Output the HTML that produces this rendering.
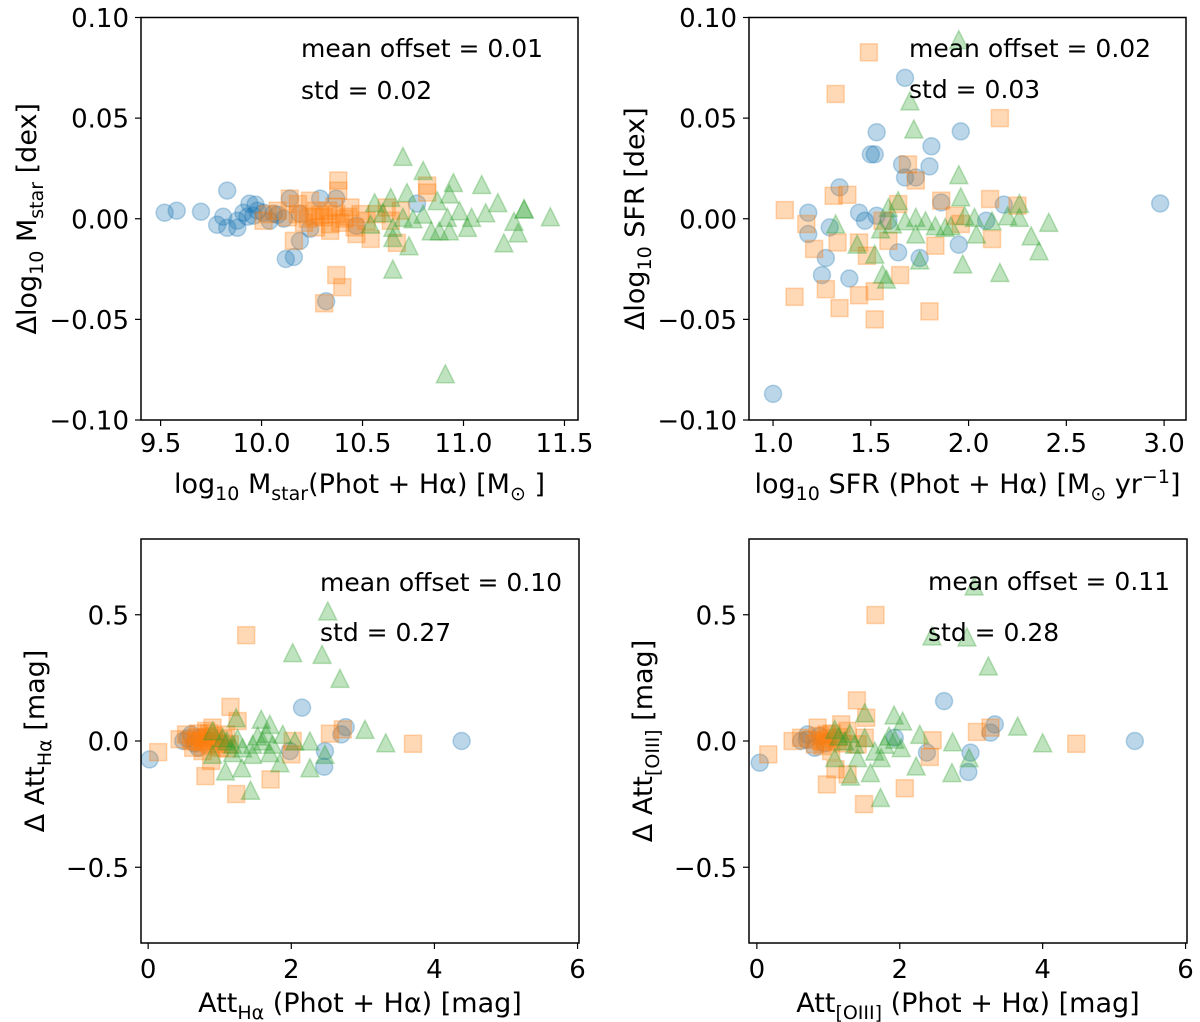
<!DOCTYPE html>
<html><head><meta charset="utf-8">
<style>
html,body{margin:0;padding:0;background:#fff;}
svg{display:block;font-family:"DejaVu Sans","Liberation Sans",sans-serif;}
</style></head>
<body>
<svg id="fig" width="1200" height="1022" viewBox="0 0 1200 1022"></svg>
<script>
// ---------- data ----------
const p1Blue=[[9.52,0.003],[9.58,0.004],[9.70,0.0035],[9.83,0.014],[9.81,0.001],[9.78,-0.003],[9.83,-0.0045],[9.88,-0.0045],[9.88,-0.001],[9.91,0.003],[9.94,0.0075],[9.97,0.007],[9.96,0.0015],[10.01,0.003],[10.06,0.0025],[10.11,0],[10.14,0.01],[10.19,-0.011],[10.12,-0.02],[10.16,-0.019],[10.32,-0.041],[10.29,0.01],[10.37,0.01],[10.24,-0.005],[10.77,0.0075],[10.47,-0.0035],[10.04,-0.001],[10.19,0.0025],[9.93,0.001],[9.98,0.004],[10.08,0.002]];
const p1Orange=[[10.38,0.019],[10.38,0.014],[10.82,0.0165],[10.82,0.013],[10.37,-0.028],[10.40,-0.034],[10.31,-0.042],[10.16,-0.011],[10.54,-0.01],[10.67,-0.012],[10.14,0.01],[10.03,0.0023],[10.08,0.004],[10.13,0.0007],[10.18,0.0023],[10.23,0],[10.27,0.004],[10.31,0.0007],[10.34,-0.0027],[10.37,0.0023],[10.41,0],[10.44,0.0056],[10.46,-0.0043],[10.49,0.0023],[10.52,-0.001],[10.57,0.0023],[10.62,0.0056],[10.64,-0.001],[10.69,0.004],[10.27,-0.0043],[10.34,-0.006],[10.18,0.0073],[10.24,0.009],[10.47,-0.0076],[10.01,-0.001],[10.29,0.002],[10.33,0.004],[10.39,-0.002],[10.43,0.001],[10.36,0.006],[10.21,-0.002],[10.26,0.001]];
const p1Green=[[10.70,0.031],[10.80,0.024],[10.95,0.018],[11.09,0.017],[11.17,0.008],[11.43,0.001],[11.30,0.005],[11.25,-0.0013],[11.27,-0.007],[11.20,-0.012],[10.65,-0.025],[10.91,-0.077],[10.73,-0.0134],[10.93,0.0123],[10.56,0.008],[10.64,0.0106],[10.72,0.013],[10.54,-0.0027],[10.60,0.003],[10.65,-0.0043],[10.70,0.0007],[10.75,0],[10.80,0.0023],[10.84,-0.006],[10.87,0.009],[10.88,-0.006],[10.92,0.0007],[10.93,-0.006],[10.98,0.004],[11.02,-0.0043],[11.04,0.0007],[11.11,0.003],[11.30,0.0048],[10.65,-0.0093]];

const p2Blue=[[1.00,-0.087],[2.98,0.0076],[1.675,0.07],[1.53,0.043],[1.50,0.032],[1.52,0.032],[1.81,0.036],[1.96,0.0434],[1.80,0.026],[1.66,0.027],[1.675,0.0205],[1.73,0.0205],[1.34,0.0156],[1.18,0.003],[1.18,-0.0076],[1.27,-0.0195],[1.25,-0.028],[1.39,-0.0297],[1.44,0.003],[1.47,-0.001],[1.53,0.0015],[1.64,-0.0167],[1.75,-0.0195],[1.95,-0.0129],[2.18,0.007],[2.09,-0.001],[1.86,0.0081],[1.29,-0.0043],[1.59,-0.001]];
const p2Orange=[[1.49,0.0827],[1.32,0.062],[2.16,0.05],[1.06,0.0043],[1.11,-0.0388],[1.34,-0.0444],[1.52,-0.050],[1.80,-0.046],[1.27,-0.035],[1.44,-0.038],[1.52,-0.036],[1.65,-0.028],[1.21,-0.015],[2.11,0.0098],[2.25,0.0065],[2.12,-0.0101],[1.86,0.009],[1.69,0.027],[1.73,0.019],[1.31,0.0114],[1.38,0.0119],[1.17,-0.0026],[1.33,-0.0118],[1.44,-0.0118],[1.48,-0.0184],[1.56,-0.001],[1.59,-0.011],[1.83,-0.0134],[1.96,-0.0026],[1.93,0.0015],[1.64,0.0073]];
const p2Green=[[1.95,0.089],[1.70,0.0586],[1.72,0.0446],[1.95,0.0219],[1.96,0.0109],[2.26,0.0076],[2.26,0.0007],[2.41,-0.0018],[2.32,-0.0085],[2.36,-0.0159],[2.16,-0.0267],[1.97,-0.0225],[1.75,-0.0205],[1.56,-0.0275],[1.58,-0.030],[1.52,-0.0176],[1.43,-0.0126],[1.32,-0.0026],[1.55,-0.0051],[1.61,-0.0026],[1.73,0.0007],[1.78,-0.001],[1.83,-0.0035],[1.88,-0.0043],[1.91,-0.0035],[1.98,0.0015],[2.03,0.0007],[2.04,-0.0076],[2.12,-0.001],[2.20,0.0015],[1.64,0.009],[1.73,-0.0076],[1.59,0.0056],[1.675,-0.001]];

const p3Blue=[[0.02,-0.073],[4.38,0],[2.15,0.132],[2.76,0.055],[2.70,0.026],[2.47,-0.04],[2.46,-0.102],[1.98,-0.04],[0.60,0.026],[0.49,0],[0.72,0.013],[0.70,-0.027],[0.55,0.01],[0.65,-0.01]];
const p3Orange=[[1.37,0.419],[1.15,0.135],[1.25,0.079],[3.70,-0.011],[2.54,0.029],[2.72,0.046],[2.02,0],[2.0,-0.053],[1.71,-0.152],[1.23,-0.21],[0.80,-0.139],[0.88,-0.079],[0.14,-0.044],[0.44,0.007],[0.53,0.026],[0.67,0],[0.81,0.04],[0.95,0],[1.09,0.026],[0.76,-0.04],[1.0,-0.027],[0.63,-0.027],[0.90,0.053],[1.14,-0.013],[0.75,0.01],[0.85,-0.01],[0.7,0.03],[1.05,0.01],[0.78,0.0],[0.82,0.015],[0.88,-0.02],[0.72,-0.005],[0.92,0.02],[0.98,-0.01],[0.6,0.0],[0.68,0.015],[1.1,-0.03],[0.85,0.03]];
const p3Green=[[2.51,0.515],[2.02,0.35],[2.43,0.343],[2.68,0.248],[3.03,0.046],[3.32,-0.007],[2.26,0],[2.47,-0.053],[2.26,-0.106],[1.84,-0.086],[1.43,-0.195],[1.31,-0.106],[1.08,-0.119],[1.23,0.092],[1.58,0.086],[1.70,0.066],[1.88,0.026],[2.05,0],[0.90,0.04],[1.04,0.013],[1.18,-0.013],[1.32,-0.027],[1.46,-0.013],[1.60,0],[1.74,-0.013],[0.90,-0.053],[1.18,-0.046],[1.46,-0.053],[1.70,-0.046],[1.1,0.0],[1.25,0.01],[1.53,0.02],[1.65,0.03]];

const p4Blue=[[0.04,-0.086],[5.29,0],[2.62,0.158],[3.33,0.066],[3.27,0.033],[2.99,-0.046],[2.96,-0.123],[2.38,-0.046],[0.71,0.026],[0.62,0],[0.88,0.02],[0.81,-0.027],[1.93,0.013],[0.7,0.005],[0.95,-0.01]];
const p4Orange=[[1.66,0.499],[1.40,0.161],[1.53,0.092],[4.47,-0.011],[3.08,0.036],[3.27,0.053],[2.46,0.003],[2.42,-0.063],[2.07,-0.187],[1.50,-0.25],[0.98,-0.172],[1.10,-0.112],[0.16,-0.053],[0.50,0],[1.27,-0.132],[0.62,0.013],[0.81,-0.013],[0.98,0.026],[1.13,0],[1.27,0.04],[1.41,-0.013],[1.04,-0.04],[0.85,0.053],[1.18,0.066],[1.51,0.013],[0.9,0.0],[1.0,0.01],[0.92,-0.02],[1.05,0.03],[0.88,0.02],[1.2,-0.01],[0.95,-0.005],[1.15,0.015],[0.75,0.005]];
const p4Green=[[3.04,0.614],[2.45,0.416],[2.94,0.412],[3.24,0.297],[3.65,0.059],[4.0,-0.007],[2.74,-0.003],[2.97,-0.066],[2.73,-0.125],[2.23,-0.099],[1.73,-0.224],[1.59,-0.125],[1.31,-0.139],[1.51,0.112],[1.92,0.103],[2.04,0.079],[2.28,0.026],[1.09,0.046],[1.23,0],[1.37,-0.013],[1.51,0.013],[1.65,-0.04],[1.79,-0.013],[1.93,0.007],[2.02,-0.026],[1.09,-0.066],[1.41,-0.066],[1.74,-0.066],[1.15,0.02],[1.3,0.03],[1.85,0.02]];

const xTicks1=[9.5,10.0,10.5,11.0,11.5];
const xTickLabels1=["9.5","10.0","10.5","11.0","11.5"];
const xTicks2=[1.0,1.5,2.0,2.5,3.0];
const xTickLabels2=["1.0","1.5","2.0","2.5","3.0"];
const xTicks34=[0,2,4,6];
const xTickLabels34=["0","2","4","6"];
const yTicksTop=[0.10,0.05,0.00,-0.05,-0.10];
const yTickLabelsTop=["0.10","0.05","0.00","\u22120.05","\u22120.10"];
const yTicksBot=[0.5,0.0,-0.5];
const yTickLabelsBot=["0.5","0.0","\u22120.5"];
const annotations=[["mean offset = 0.01","std = 0.02"],["mean offset = 0.02","std = 0.03"],["mean offset = 0.10","std = 0.27"],["mean offset = 0.11","std = 0.28"]];

// ---------- drawing ----------
const NS="http://www.w3.org/2000/svg";
const svg=document.getElementById('fig');
function mk(tag,attrs,parent){const e=document.createElementNS(NS,tag);for(const k in attrs)e.setAttribute(k,attrs[k]);(parent||svg).appendChild(e);return e;}

const SUB=19;
const panels=[
 {name:'mass',L:141,R:578,T:17.5,B:420,x0:9.403,x1:11.567,y0:-0.1,y1:0.1,blue:p1Blue,orange:p1Orange,green:p1Green,xt:xTicks1,xl:xTickLabels1,yt:yTicksTop,yl:yTickLabelsTop,ann:annotations[0],ax:301,ay:[57,99],tOff:32,lOff:73,
  xlabel:`log<tspan font-size="${SUB}" dy="7">10</tspan><tspan dy="-7"> M</tspan><tspan font-size="${SUB}" dy="7">star</tspan><tspan dy="-7">(Phot + H\u03b1) [M</tspan><tspan font-size="${SUB}" dy="7">\u2299</tspan><tspan dy="-7"> ]</tspan>`,
  ylabel:`\u0394log<tspan font-size="${SUB}" dy="7">10</tspan><tspan dy="-7"> M</tspan><tspan font-size="${SUB}" dy="7">star</tspan><tspan dy="-7"> [dex]</tspan>`,ylx:36},
 {name:'sfr',L:749,R:1186,T:17.5,B:420,x0:0.877,x1:3.112,y0:-0.1,y1:0.1,blue:p2Blue,orange:p2Orange,green:p2Green,xt:xTicks2,xl:xTickLabels2,yt:yTicksTop,yl:yTickLabelsTop,ann:annotations[1],ax:909,ay:[57,98],tOff:32,lOff:73,
  xlabel:`log<tspan font-size="${SUB}" dy="7">10</tspan><tspan dy="-7"> SFR (Phot + H\u03b1) [M</tspan><tspan font-size="${SUB}" dy="7">\u2299</tspan><tspan dy="-7"> yr</tspan><tspan font-size="${SUB}" dy="-10">\u22121</tspan><tspan dy="10">]</tspan>`,
  ylabel:`\u0394log<tspan font-size="${SUB}" dy="7">10</tspan><tspan dy="-7"> SFR [dex]</tspan>`,ylx:644},
 {name:'att-ha',L:141,R:579,T:539,B:943,x0:-0.1,x1:6.02,y0:-0.8,y1:0.8,blue:p3Blue,orange:p3Orange,green:p3Green,xt:xTicks34,xl:xTickLabels34,yt:yTicksBot,yl:yTickLabelsBot,ann:annotations[2],ax:320,ay:[591,641],tOff:35,lOff:69,
  xlabel:`Att<tspan font-size="${SUB}" dy="7">H\u03b1</tspan><tspan dy="-7"> (Phot + H\u03b1) [mag]</tspan>`,
  ylabel:`\u0394 Att<tspan font-size="${SUB}" dy="7">H\u03b1</tspan><tspan dy="-7"> [mag]</tspan>`,ylx:44},
 {name:'att-oiii',L:749,R:1187,T:539,B:943,x0:-0.11,x1:6.02,y0:-0.8,y1:0.8,blue:p4Blue,orange:p4Orange,green:p4Green,xt:xTicks34,xl:xTickLabels34,yt:yTicksBot,yl:yTickLabelsBot,ann:annotations[3],ax:928,ay:[590,641],tOff:35,lOff:69,
  xlabel:`Att<tspan font-size="${SUB}" dy="7">[OIII]</tspan><tspan dy="-7"> (Phot + H\u03b1) [mag]</tspan>`,
  ylabel:`\u0394 Att<tspan font-size="${SUB}" dy="7">[OIII]</tspan><tspan dy="-7"> [mag]</tspan>`,ylx:652}
];

panels.forEach(p=>{
  const g=mk('g',{});
  
  
  const sx=v=>p.L+(v-p.x0)/(p.x1-p.x0)*(p.R-p.L);
  const sy=v=>p.B-(v-p.y0)/(p.y1-p.y0)*(p.B-p.T);
  const marks=mk('g',{},g);
  
  
  p.blue.forEach(d=>{
    const c=mk('circle',{cx:sx(d[0]),cy:sy(d[1]),r:8.5,fill:'rgba(31,119,180,0.3)',stroke:'rgba(31,119,180,0.3)','stroke-width':1.5},marks);
    
    
  });
  p.orange.forEach(d=>{
    const x=sx(d[0]),y=sy(d[1]);
    const c=mk('rect',{x:x-8.5,y:y-8.5,width:17,height:17,fill:'rgba(255,127,14,0.3)',stroke:'rgba(255,127,14,0.3)','stroke-width':1.5},marks);
    
    
  });
  p.green.forEach(d=>{
    const x=sx(d[0]),y=sy(d[1]);
    const c=mk('polygon',{points:`${x},${y-9} ${x-9},${y+9} ${x+9},${y+9}`,fill:'rgba(44,160,44,0.3)',stroke:'rgba(44,160,44,0.3)','stroke-width':1.5},marks);
    
    
  });
  const fr=mk('rect',{x:p.L,y:p.T,width:p.R-p.L,height:p.B-p.T,fill:'none',stroke:'#000','stroke-width':1.5},g);
  
  
  p.xt.forEach((v,i)=>{
    const x=sx(v);
    mk('line',{x1:x,x2:x,y1:p.B,y2:p.B+6,stroke:'#000','stroke-width':1.2},g);
    const t=mk('text',{x:x,y:p.B+p.tOff,'text-anchor':'middle','font-size':26,fill:'#000'},g);
    t.textContent=p.xl[i];
    
    
  });
  p.yt.forEach((v,i)=>{
    const y=sy(v);
    mk('line',{x1:p.L-6,x2:p.L,y1:y,y2:y,stroke:'#000','stroke-width':1.2},g);
    const t=mk('text',{x:p.L-12,y:y+9.5,'text-anchor':'end','font-size':26,fill:'#000'},g);
    t.textContent=p.yl[i];
    
    
  });
  const xl=mk('text',{x:(p.L+p.R)/2,y:p.B+p.lOff,'text-anchor':'middle','font-size':27,fill:'#000'},g);
  xl.innerHTML=p.xlabel;
  
  
  const yc=(p.T+p.B)/2;
  const yl=mk('text',{x:p.ylx,y:yc,'text-anchor':'middle','font-size':27,fill:'#000',transform:`rotate(-90 ${p.ylx} ${yc})`},g);
  yl.innerHTML=p.ylabel;
  
  
  p.ann.forEach((s,i)=>{
    const t=mk('text',{x:p.ax,y:p.ay[i],'font-size':25,fill:'#000'},g);
    t.textContent=s;
    
    
  });
});
</script>
</body></html>
